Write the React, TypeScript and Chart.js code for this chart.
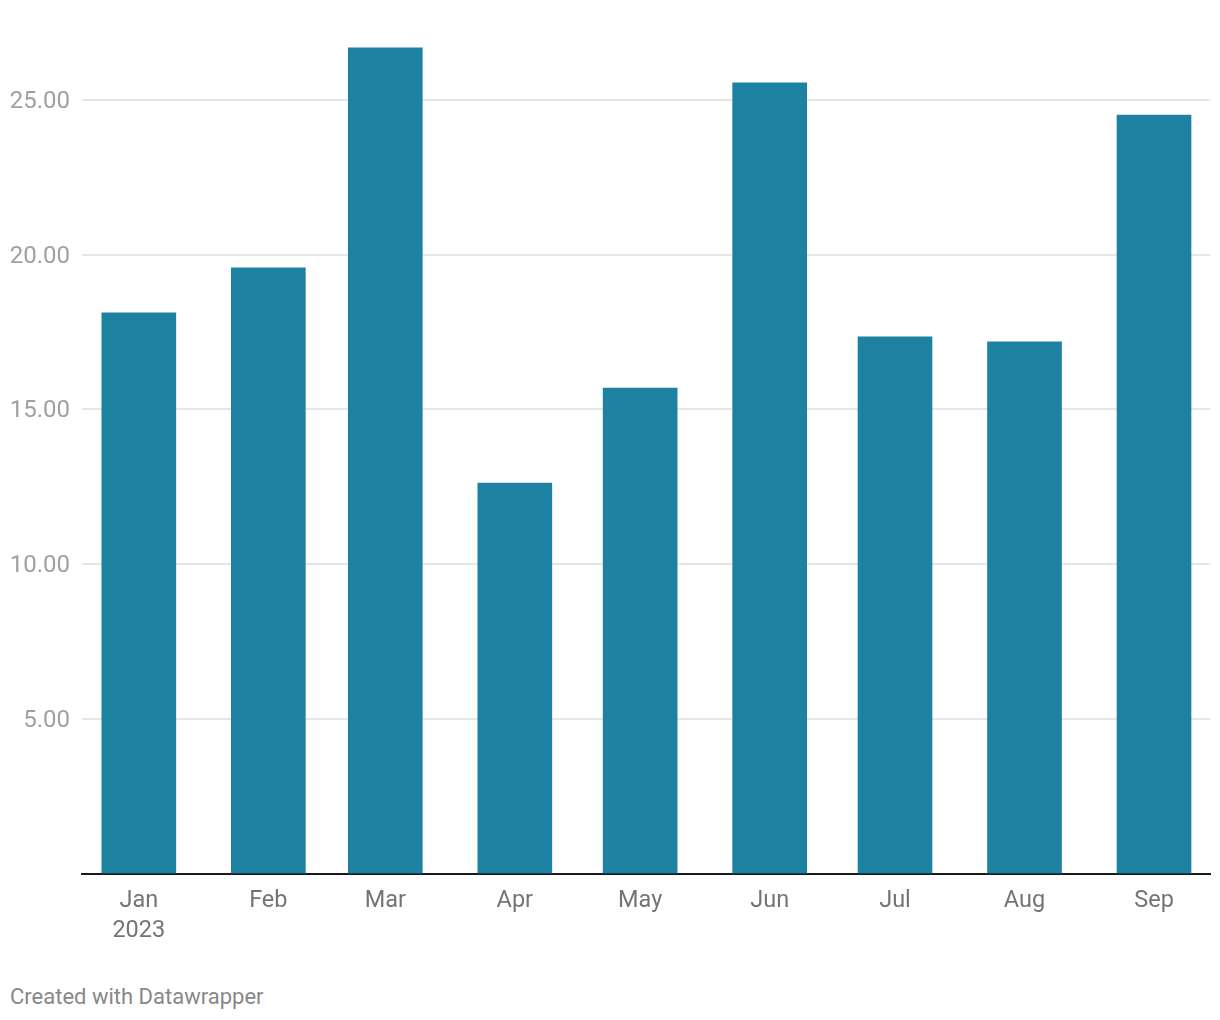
import React, { useEffect, useRef } from "react";
import { Chart, registerables } from "chart.js";

Chart.register(...registerables);

// Day offsets from 1 Jan 2023 for each monthly bar
const monthDays = [0, 31, 59, 90, 120, 151, 181, 212, 243];
const monthLabels: (string | string[])[] = [["Jan", "2023"], "Feb", "Mar", "Apr", "May", "Jun", "Jul", "Aug", "Sep"];
const values = [18.12, 19.57, 26.68, 12.62, 15.69, 25.55, 17.34, 17.18, 24.51];
const yTicks = [5, 10, 15, 20, 25];

const BAR_COLOR = "#1d81a2";

export default function App() {
  const ref = useRef<HTMLCanvasElement | null>(null);

  useEffect(() => {
    document.body.style.margin = "0";
    const canvas = ref.current;
    if (!canvas) return;
    const chart = new Chart(canvas, {
      type: "bar",
      data: {
        datasets: [
          {
            data: monthDays.map((d, i) => ({ x: d, y: values[i] })),
            backgroundColor: BAR_COLOR,
            borderWidth: 0,
            barThickness: 74,
          },
        ],
      },
      options: {
        animation: false,
        responsive: false,
        maintainAspectRatio: false,
        layout: { padding: { left: 0, right: 10, top: 38, bottom: 0 } },
        plugins: { legend: { display: false }, tooltip: { enabled: false } },
        scales: {
          x: {
            type: "linear",
            min: -13.6,
            max: 256.4,
            offset: false,
            grid: { display: false, drawTicks: false },
            border: { display: true, color: "#1a1a1a", width: 2 },
            afterBuildTicks: (scale: any) => {
              scale.ticks = monthDays.map((v) => ({ value: v }));
            },
            afterFit: (scale: any) => {
              scale.height = 960 - 873.5;
            },
            ticks: {
              autoSkip: false,
              maxRotation: 0,
              minRotation: 0,
              padding: 13,
              color: "#747474",
              font: { family: "Roboto", size: 23.5, lineHeight: 1.28 },
              callback: (_v: any, i: number) => monthLabels[i],
            },
          },
          y: {
            min: 0,
            max: 27,
            grid: { color: "#e6e6e6", lineWidth: 2, drawTicks: false },
            border: { display: false },
            afterBuildTicks: (scale: any) => {
              scale.ticks = yTicks.map((v) => ({ value: v }));
            },
            afterFit: (scale: any) => {
              scale.width = 82;
            },
            ticks: {
              padding: 12,
              labelOffset: 2,
              color: "#a0a0a0",
              font: { family: "Roboto", size: 24 },
              callback: (v: any) => Number(v).toFixed(2),
            },
          },
        },
      },
    });
    return () => chart.destroy();
  }, []);

  return (
    <div style={{ position: "relative", width: 1220, height: 1020, background: "#fff" }}>
      <canvas ref={ref} width={1220} height={960} style={{ display: "block", width: 1220, height: 960 }} />
      <div
        style={{
          position: "absolute",
          left: 10,
          top: 983,
          fontFamily: "Roboto",
          fontSize: 22,
          lineHeight: "28px",
          color: "#888888",
          whiteSpace: "nowrap",
        }}
      >
        Created with Datawrapper
      </div>
    </div>
  );
}
